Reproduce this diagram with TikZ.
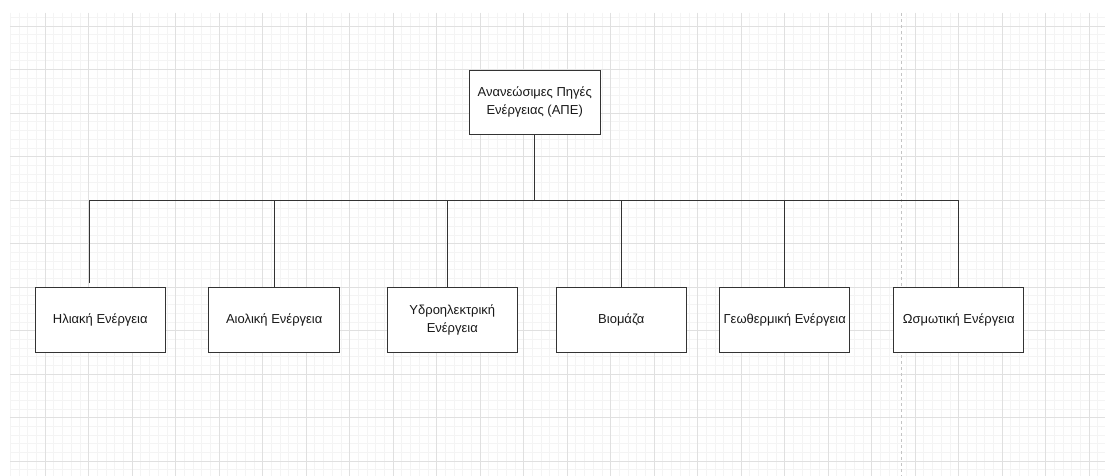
\documentclass[tikz,border=0pt]{standalone}
\usepackage{fontspec}
\setmainfont{Liberation Sans}
\definecolor{minorgrid}{HTML}{F4F4F4}
\definecolor{majorgrid}{HTML}{E0E0E0}
\definecolor{pagebreak}{HTML}{C4C4C4}
\definecolor{ink}{HTML}{333333}
\begin{document}
\begin{tikzpicture}[x=1pt,y=-1pt,
  box/.style={draw=ink,line width=1pt,fill=white,minimum width=130.5pt,minimum height=65pt,
    inner sep=1pt,align=center,font=\fontsize{13}{17.5}\selectfont,text=black!90},
  conn/.style={draw=ink,line width=0.9pt},
  minorl/.style={draw=minorgrid,line width=0.6pt},
  majorl/.style={draw=majorgrid,line width=0.8pt}]
\useasboundingbox (0,0) rectangle (1105,476);
\fill[white] (0,0) rectangle (1105,476);
% grid
\foreach \i in {0,...,125} \draw[minorl] ({10.2+\i*8.7},13) -- ({10.2+\i*8.7},476);
\foreach \j in {0,...,52} \draw[minorl] (10,{17.3+\j*8.7}) -- (1105,{17.3+\j*8.7});
\foreach \m in {0,...,24} \draw[majorl] ({45+\m*43.5},13) -- ({45+\m*43.5},476);
\foreach \n in {0,...,10} \draw[majorl] (10,{26+\n*43.5}) -- (1105,{26+\n*43.5});
\draw[pagebreak,line width=0.8pt,dash pattern=on 3pt off 3pt] (901,13) -- (901,476);
% nodes
\node[box,minimum width=131pt,minimum height=64pt] (top) at (534.7,102.2) {Ανανεώσιμες Πηγές\\Ενέργειας (ΑΠΕ)};
\node[box] (b1) at (100.3,319.8) {Ηλιακή Ενέργεια};
\node[box] (b2) at (274.2,319.8) {Αιολική Ενέργεια};
\node[box] (b3) at (452.3,319.8) {Υδροηλεκτρική\\Ενέργεια};
\node[box] (b4) at (621.3,319.8) {Βιομάζα};
\node[box] (b5) at (784.7,319.8) {Γεωθερμική Ενέργεια};
\node[box] (b6) at (958.7,319.8) {Ωσμωτική Ενέργεια};
% connectors
\coordinate (bus) at (534.7,200.5);
\draw[conn] (top.south) -- (bus);
\draw[conn] (bus) -| ([xshift=-11pt,yshift=4pt]b1.north);
\draw[conn] (bus) -| (b2.north);
\draw[conn] (bus) -| ([xshift=-4.6pt]b3.north);
\draw[conn] (bus) -| (b4.north);
\draw[conn] (bus) -| (b5.north);
\draw[conn] (bus) -| (b6.north);
\end{tikzpicture}
\end{document}
